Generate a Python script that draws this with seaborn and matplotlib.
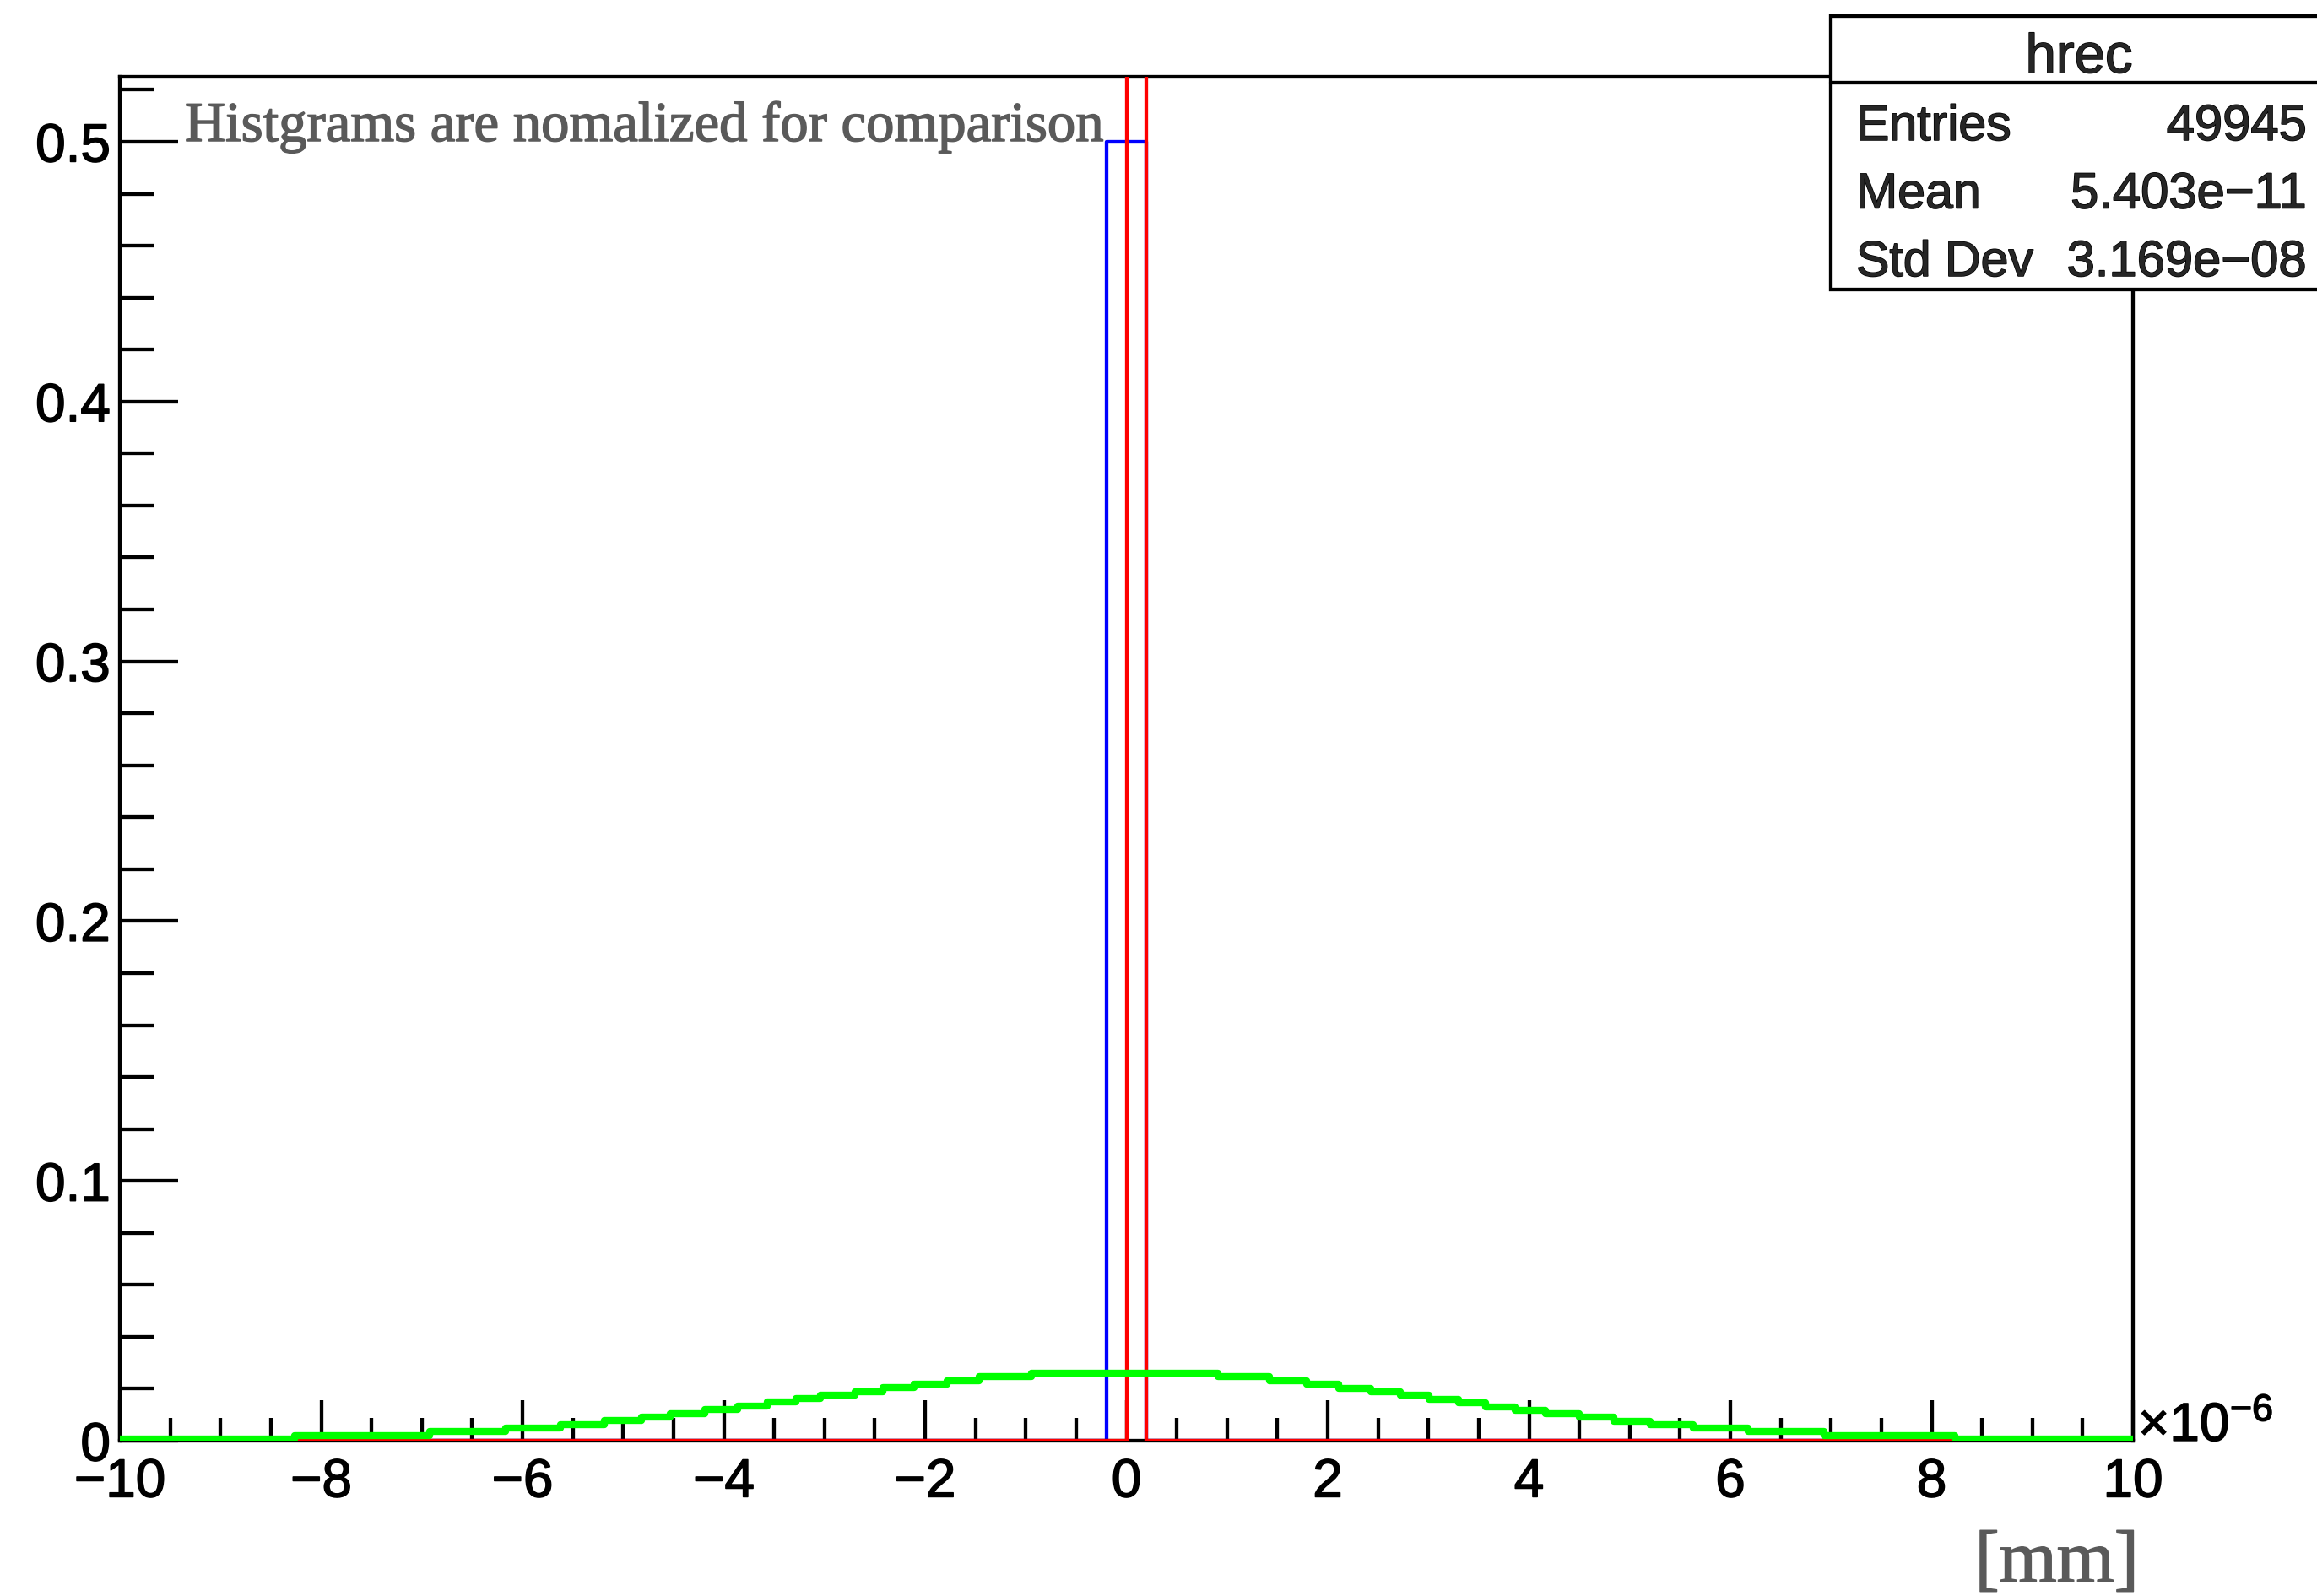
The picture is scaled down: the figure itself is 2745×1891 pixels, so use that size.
import numpy as np
import pandas as pd
import matplotlib
matplotlib.use("Agg")
import matplotlib.pyplot as plt
import matplotlib.patheffects as pe
import seaborn as sns
from matplotlib.patches import Rectangle
from matplotlib.lines import Line2D
from matplotlib.ticker import FixedLocator, FixedFormatter, MultipleLocator

# ---------------- data (x in units of 1e-6) ----------------
green_edges = [-10, -8.26, -6.92, -6.17, -5.62, -5.19, -4.82, -4.53, -4.19, -3.86,
               -3.57, -3.28, -3.04, -2.70, -2.42, -2.11, -1.78, -1.46, -0.94, 0.91,
               1.42, 1.79, 2.11, 2.43, 2.72, 3.01, 3.30, 3.57, 3.86, 4.16,
               4.50, 4.84, 5.20, 5.63, 6.18, 6.93, 8.23, 10]
green_values = [0.0007, 0.0020, 0.0035, 0.0049, 0.0063, 0.0077, 0.0091, 0.0105, 0.0119,
                0.0133, 0.0148, 0.0162, 0.0176, 0.0190, 0.0204, 0.0218, 0.0232, 0.0246,
                0.0261, 0.0246, 0.0231, 0.0217, 0.0202, 0.0189, 0.0174, 0.0159, 0.0145,
                0.0131, 0.0118, 0.0104, 0.0090, 0.0076, 0.0063, 0.0048, 0.0035, 0.0021,
                0.0008]
blue_edges = [-10, -0.2, 0, 0.2, 10]
blue_values = [0.0, 0.5, 0.5, 0.0]
red_edges = [-10, 0, 0.2, 10]
red_values = [0.0, 1.0, 0.0]

y_ticks = [0, 0.1, 0.2, 0.3, 0.4, 0.5]
y_labels = ["0", "0.1", "0.2", "0.3", "0.4", "0.5"]
x_ticks = [-10, -8, -6, -4, -2, 0, 2, 4, 6, 8, 10]
x_labels = ["\u221210", "\u22128", "\u22126", "\u22124", "\u22122", "0", "2", "4", "6", "8", "10"]

stats_title = "hrec"
stats_names = ["Entries", "Mean", "Std Dev"]
stats_vals = ["49945", "5.403e\u221211", "3.169e\u221208"]
note = "Histgrams are nomalized for comparison"
xunit = "[mm]"

# ---------------- style ----------------
sns.set_style("white")
plt.rcParams["font.family"] = ["Liberation Sans", "DejaVu Sans"]
plt.rcParams["mathtext.fontset"] = "custom"
plt.rcParams["mathtext.rm"] = "Liberation Sans"
plt.rcParams["mathtext.it"] = "Liberation Sans:italic"
plt.rcParams["mathtext.bf"] = "Liberation Sans:bold"

W, H = 2745, 1891
fig = plt.figure(figsize=(W / 100, H / 100), dpi=100)
fig.patch.set_facecolor("white")
ax = fig.add_axes([142 / W, 1 - 1707 / H, (2527 - 142) / W, (1707 - 91) / H])

LW = 3.1
for edges, vals, color, lw, z in [
    (blue_edges, blue_values, "#0000ff", LW, 2),
    (red_edges, red_values, "#ff0000", LW, 3),
    (green_edges, green_values, "#00ff00", 6.0, 4),
]:
    e = [float(v) for v in edges]
    centers = [(a + b) / 2 for a, b in zip(e[:-1], e[1:])]
    df = pd.DataFrame({"x": centers, "w": [float(v) for v in vals]})
    sns.histplot(data=df, x="x", weights="w", bins=e, element="step", fill=False,
                 color=color, linewidth=lw, ax=ax, zorder=z)

ax.set_xlim(-10, 10)
ax.set_ylim(0, 0.525)
ax.set_ylabel("")
ax.set_xlabel("")

for s in ax.spines.values():
    s.set_visible(True)
    s.set_color("black")
    s.set_linewidth(LW)

ax.yaxis.set_major_locator(FixedLocator(y_ticks))
ax.yaxis.set_major_formatter(FixedFormatter(y_labels))
ax.yaxis.set_minor_locator(MultipleLocator(0.02))
ax.xaxis.set_major_locator(FixedLocator(x_ticks))
ax.xaxis.set_major_formatter(FixedFormatter(x_labels))
ax.xaxis.set_minor_locator(MultipleLocator(0.5))

ax.tick_params(which="both", direction="in", bottom=True, left=True, top=False, right=False,
               width=LW, color="black", labelcolor="black", labelsize=46)
ax.xaxis.set_tick_params(which="major", length=34.5, pad=14)
ax.xaxis.set_tick_params(which="minor", length=19.4)
ax.yaxis.set_tick_params(which="major", length=50, pad=8)
ax.yaxis.set_tick_params(which="minor", length=29)

def thick(color):
    return [pe.withStroke(linewidth=1.1, foreground=color)]

for lab in ax.get_xticklabels() + ax.get_yticklabels():
    lab.set_path_effects(thick("black"))

GREY = "#5a5a5a"
# annotation inside the frame
ax.text((219 - 142) / 2385, (1707 - 167) / 1616, note, transform=ax.transAxes,
        family=["Liberation Serif", "DejaVu Serif"], size=48, color=GREY,
        ha="left", va="baseline", path_effects=thick(GREY))

# exponent label
ax.text(1.0 + 6 / 2385, 0.0, r"$\mathregular{\times10^{-6}}$", transform=ax.transAxes,
        size=46, color="black", ha="left", va="baseline", path_effects=thick("black"))

# axis title
ax.set_xlabel(xunit, family=["Liberation Serif", "DejaVu Serif"], size=63, color=GREY)
ax.xaxis.label.set_path_effects(thick(GREY))
ax.xaxis.set_label_coords((2534 - 142) / 2385, (1707 - 1874) / 1616)
ax.xaxis.label.set_ha("right")
ax.xaxis.label.set_va("baseline")

# stats box
bx0, by0, by1, bdiv = 2169 / W, 1 - 343 / H, 1 - 19 / H, 1 - 98 / H
fig.add_artist(Rectangle((bx0, by0), 1.05 - bx0, by1 - by0, transform=fig.transFigure,
                         facecolor="white", edgecolor="black", linewidth=LW, zorder=5))
fig.add_artist(Line2D([bx0, 1.05], [bdiv, bdiv], transform=fig.transFigure,
                      color="black", linewidth=LW, zorder=6))
fig.text(2463 / W, 1 - 86 / H, stats_title, ha="center", va="baseline", size=47, zorder=7,
         path_effects=thick("black"))
for i, (n, v) in enumerate(zip(stats_names, stats_vals)):
    yb = 1 - (166 + 80.5 * i) / H
    fig.text(2199 / W, yb, n, ha="left", va="baseline", size=42.5, zorder=7,
             path_effects=thick("black"))
    fig.text(2733 / W, yb, v, ha="right", va="baseline", size=43, zorder=7,
             path_effects=thick("black"))

fig.savefig("out.png", dpi=100, facecolor="white")
